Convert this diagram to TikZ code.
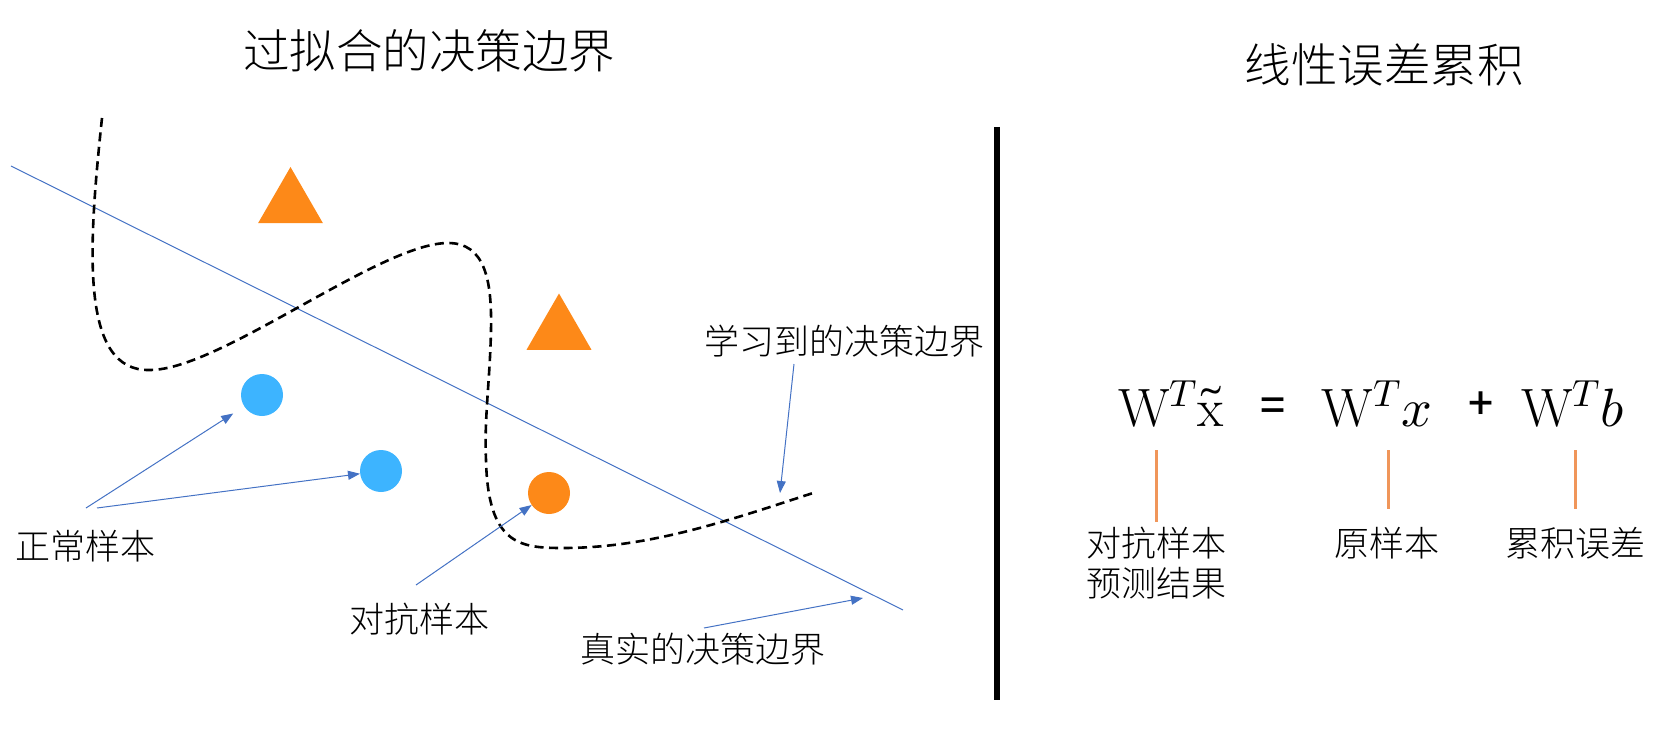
\documentclass[tikz,border=0pt]{standalone}
\usepackage{fontspec}
\usepackage{unicode-math}
\setmathfont{Latin Modern Math}
\newfontfamily\cjk{Noto Sans CJK SC Light}
\newfontfamily\cjkop{Noto Sans CJK SC Medium}
\usetikzlibrary{arrows.meta,shapes.geometric}
\definecolor{triorange}{RGB}{253,137,24}
\definecolor{dotblue}{RGB}{61,180,255}
\definecolor{lineblue}{RGB}{68,114,196}
\definecolor{lineorange}{RGB}{240,150,90}
\begin{document}
\begin{tikzpicture}[x=1pt,y=-1pt,
  title/.style={font=\cjk\fontsize{46.5}{50}\selectfont, inner sep=0pt},
  lab/.style={font=\cjk\fontsize{35}{40}\selectfont, inner sep=0pt, align=center},
  dot/.style={circle, minimum size=42pt, inner sep=0pt, fill=#1},
  tri/.style={regular polygon, regular polygon sides=3, minimum size=75pt, inner sep=0pt, fill=triorange},
  arr/.style={draw=lineblue, line width=1pt, -{Triangle[length=12pt,width=9pt]}},
  bound/.style={draw=black, line width=2.6pt, dash pattern=on 9pt off 5.5pt},
  oline/.style={draw=lineorange, line width=3pt},
  eq/.style={font=\fontsize{54}{60}\selectfont, inner sep=0pt, anchor=base},
  op/.style={font=\cjkop\fontsize{44}{44}\selectfont, inner sep=0pt},
]
\useasboundingbox (0,0) rectangle (1662,730);

% titles
\node[title] (tleft) at (429,51) {过拟合的决策边界};
\node[title] (tright) at (1384,65) {线性误差累积};

% separator
\coordinate (sep1) at (997,127);
\coordinate (sep2) at (997,700);
\draw[line width=6pt] (sep1) -- (sep2);

% true boundary
\coordinate (L1) at (11,166);
\coordinate (L2) at (903,610);
\draw[lineblue, line width=1pt] (L1) -- (L2);

% learned boundary
\draw[bound] (102,118) .. controls (88,250) and (80,372) .. (150,370)
  .. controls (220,370) and (380,243) .. (448,243)
  .. controls (485,243) and (492,280) .. (491,330)
  .. controls (490,380) and (484,420) .. (486,460)
  .. controls (488,545) and (520,548) .. (563,548)
  .. controls (650,548) and (730,520) .. (813,493);

% samples
\node[tri] (t1) at (290.5,204.5) {};
\node[tri] (t2) at (559,331) {};
\node[dot=dotblue] (c1) at (262,395) {};
\node[dot=dotblue] (c2) at (381,471) {};
\node[dot=triorange] (c3) at (549,493) {};

% labels
\node[lab] (lnorm) at (86,546) {正常样本};
\node[lab] (ladv) at (419,619) {对抗样本};
\node[lab] (llearn) at (844.5,341) {学习到的决策边界};
\node[lab] (ltrue) at (703,649) {真实的决策边界};

% arrows
\coordinate (s1) at (86,508);
\coordinate (s2) at (97,508);
\coordinate (s3) at (416,585);
\coordinate (s4) at (794,364);
\coordinate (e4) at (780,493);
\coordinate (s5) at (704,628);
\coordinate (e5) at (863,598);
\draw[arr, shorten >=13pt] (s1) -- (c1);
\draw[arr] (s2) -- (c2);
\draw[arr] (s3) -- (c3);
\draw[arr] (s4) -- (e4);
\draw[arr] (s5) -- (e5);

% equation
\node[eq] (e1) at (1171,426) {$\mathrm{W}^{T}\tilde{\mathrm{x}}$};
\node[op] (eqs) at (1273,410) {=};
\node[eq] (e2) at (1377,426) {$\mathrm{W}^{T}x$};
\node[op] (plus) at (1481,406) {+};
\node[eq] (e3) at (1573,426) {$\mathrm{W}^{T}b$};

\coordinate (o1a) at (1156,450); \coordinate (o1b) at (1156,522);
\coordinate (o2a) at (1388,450); \coordinate (o2b) at (1388,509);
\coordinate (o3a) at (1575,450); \coordinate (o3b) at (1575,509);
\draw[oline] (o1a) -- (o1b);
\draw[oline] (o2a) -- (o2b);
\draw[oline] (o3a) -- (o3b);

\node[lab] (ra) at (1156,563) {对抗样本\\预测结果};
\node[lab] (rb) at (1387,543) {原样本};
\node[lab] (rc) at (1575,543) {累积误差};
\end{tikzpicture}
\end{document}
